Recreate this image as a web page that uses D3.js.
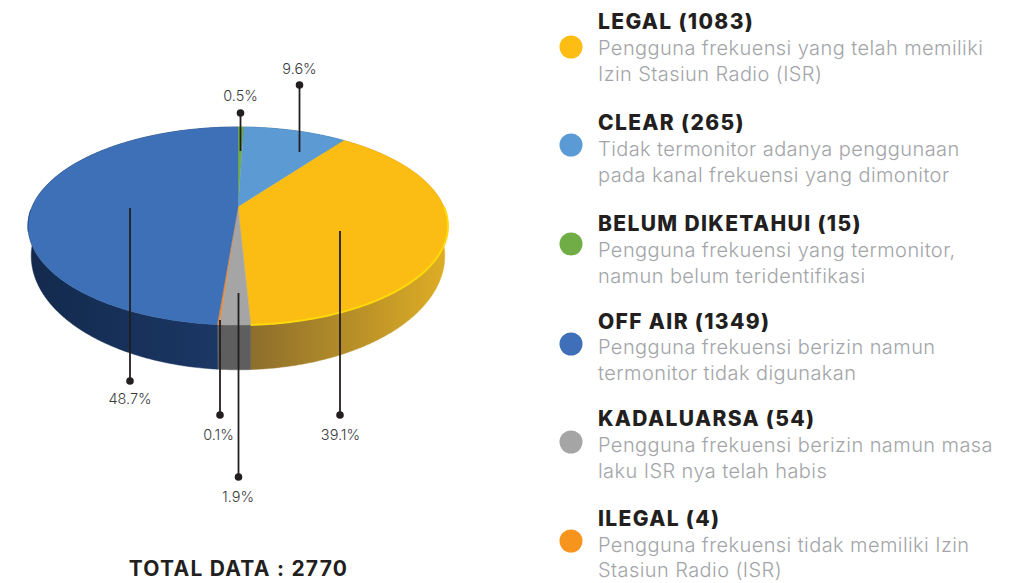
<!DOCTYPE html>
<html>
<head>
<meta charset="utf-8">
<script src="https://cdnjs.cloudflare.com/ajax/libs/d3/7.8.5/d3.min.js"></script>
<style>
  html, body { margin: 0; padding: 0; background: #fff; }
  svg { display: block; }
  text { font-family: Inter, "Open Sans", sans-serif; }
</style>
</head>
<body>
<div id="chart"></div>
<script>
// slice order runs clockwise from 12 o'clock
var names = ['BELUM DIKETAHUI', 'CLEAR', 'LEGAL', 'KADALUARSA', 'ILEGAL', 'OFF AIR'];
var counts = [15, 265, 1083, 54, 4, 1349];
var percents = ['0.5%', '9.6%', '39.1%', '1.9%', '0.1%', '48.7%'];
var total = 2770;

var legendOrder = ['LEGAL', 'CLEAR', 'BELUM DIKETAHUI', 'OFF AIR', 'KADALUARSA', 'ILEGAL'];
var legendNotes = [
  ['Pengguna frekuensi yang telah memiliki', 'Izin Stasiun Radio (ISR)'],
  ['Tidak termonitor adanya penggunaan', 'pada kanal frekuensi yang dimonitor'],
  ['Pengguna frekuensi yang termonitor,', 'namun belum teridentifikasi'],
  ['Pengguna frekuensi berizin namun', 'termonitor tidak digunakan'],
  ['Pengguna frekuensi berizin namun masa', 'laku ISR nya telah habis'],
  ['Pengguna frekuensi tidak memiliki Izin', 'Stasiun Radio (ISR)']
];

var colors = {
  'BELUM DIKETAHUI': '#70ad47', 'CLEAR': '#5b9ad3', 'LEGAL': '#fbbc13',
  'KADALUARSA': '#a5a5a5', 'ILEGAL': '#ed8a35', 'OFF AIR': '#3d70b7'
};
var legendColors = {
  'BELUM DIKETAHUI': '#70ad47', 'CLEAR': '#5b9bd5', 'LEGAL': '#fdbd13',
  'KADALUARSA': '#a5a5a5', 'ILEGAL': '#f7941d', 'OFF AIR': '#3f6fb8'
};

var w = 1020, h = 583;

var svg = d3.select('#chart').append('svg')
  .attr('width', w)
  .attr('height', h);

// side wall shading
var defs = svg.append('defs');
function wallGradient(id, x1, x2, from, to) {
  var g = defs.append('linearGradient')
    .attr('id', id)
    .attr('gradientUnits', 'userSpaceOnUse')
    .attr('x1', x1).attr('x2', x2).attr('y1', 0).attr('y2', 0);
  g.append('stop').attr('offset', 0).attr('stop-color', from);
  g.append('stop').attr('offset', 1).attr('stop-color', to);
  return 'url(#' + id + ')';
}
var wallFill = {
  'BELUM DIKETAHUI': '#3d5f28',
  'CLEAR': '#2f5b85',
  'LEGAL': wallGradient('wall-legal', 250, 440, '#8c6e2c', '#dcab25'),
  'KADALUARSA': '#5e5e5e',
  'ILEGAL': '#5e5e5e',
  'OFF AIR': wallGradient('wall-blue', 30, 220, '#132a4d', '#1b3765')
};

// pie seen in perspective: the near edge is scaled up, so the apex sits above the ellipse centre
var cx = 238, cy = 207, rx = 206, ry = 95.4, k = 0.192;
// lower rim of the wall is a bit narrower and rounder than the top face
var depth = 27, scaleX = 0.985, scaleY = 1.15;

function project(angle, radius, drop, sx, sy) {
  var a = Math.sin(angle) * radius;
  var b = -Math.cos(angle) * radius;
  var q = 1 - k * b;
  return [cx + rx * sx * a / q, cy + drop + ry * sy * b / q];
}

// walk along the rim with small steps between two angles
function rim(a0, a1, drop, sx, sy) {
  var n = Math.max(2, Math.ceil(Math.abs(a1 - a0) / 0.01));
  return d3.range(n + 1).map(function(i) {
    return project(a0 + (a1 - a0) * i / n, 1, drop, sx, sy);
  });
}

var line = d3.line();
var slices = d3.pie().sort(null).value(function(d, i) { return counts[i]; })(names);

// draw side wall
var gWall = svg.append('g').attr('id', 'wall');
gWall.selectAll('path').data(slices).enter().append('path')
  .attr('d', function(d) {
    var top = rim(d.startAngle, d.endAngle, 0, 1, 1);
    var bottom = rim(d.endAngle, d.startAngle, depth, scaleX, scaleY);
    return line(top.concat(bottom)) + 'Z';
  })
  .attr('fill', function(d) { return wallFill[d.data]; })
  .attr('stroke', function(d) { return wallFill[d.data]; })
  .attr('stroke-width', 0.5);

// draw top face
var gTop = svg.append('g').attr('id', 'top');
gTop.selectAll('path').data(slices).enter().append('path')
  .attr('d', function(d) {
    return line([project(0, 0, 0, 1, 1)].concat(rim(d.startAngle, d.endAngle, 0, 1, 1))) + 'Z';
  })
  .attr('fill', function(d) { return colors[d.data]; })
  .attr('stroke', function(d) { return colors[d.data]; })
  .attr('stroke-width', 0.4);

// bright lip on the lit side of the rim, darker one on the far left
var legal = slices[names.indexOf('LEGAL')];
svg.append('path')
  .attr('d', line(rim(Math.PI * 0.5, legal.endAngle, 0, 1, 1)))
  .attr('fill', 'none')
  .attr('stroke', '#ffd90a')
  .attr('stroke-width', 2);
svg.append('path')
  .attr('d', line(rim(Math.PI * 1.42, Math.PI * 1.49, 0, 1, 1)))
  .attr('fill', 'none')
  .attr('stroke', '#2a5a9c')
  .attr('stroke-width', 1.2);

// leader lines: [x, inner end y, dot y, label y]
var leaders = [
  [240.5, 151, 113, 101],
  [299.5, 152, 85, 74],
  [340, 231, 415, 440],
  [238.5, 293, 477, 502],
  [220, 320, 415, 440],
  [130, 208, 381, 404]
];
var labelX = [240.5, 299.5, 340.5, 238, 218.5, 130];

var gLead = svg.append('g').attr('id', 'leaders');
leaders.forEach(function(l, i) {
  gLead.append('line')
    .attr('x1', l[0]).attr('x2', l[0])
    .attr('y1', l[1]).attr('y2', l[2])
    .attr('stroke', '#231f20')
    .attr('stroke-width', 1.8);
  gLead.append('circle')
    .attr('cx', l[0]).attr('cy', l[2]).attr('r', 3.8)
    .attr('fill', '#231f20');
  gLead.append('text')
    .attr('x', labelX[i]).attr('y', l[3])
    .attr('text-anchor', 'middle')
    .attr('font-size', 14.5)
    .attr('font-weight', 300)
    .attr('fill', '#3a3a3c')
    .text(percents[i]);
});

svg.append('text')
  .attr('x', 238.5).attr('y', 576)
  .attr('text-anchor', 'middle')
  .attr('font-size', 21)
  .attr('font-weight', 700)
  .attr('letter-spacing', 1.25)
  .attr('fill', '#231f20')
  .text('TOTAL DATA : ' + total);

// legend
var titleY = [29, 130, 231, 329, 426, 526];
var noteY = [[55, 81], [156, 182], [257, 283], [354, 380], [452, 478], [552, 577]];
var dotY = [47, 145, 244, 344, 442, 541];

var gLegend = svg.append('g').attr('id', 'legend');
legendOrder.forEach(function(name, i) {
  gLegend.append('circle')
    .attr('cx', 571).attr('cy', dotY[i]).attr('r', 11.5)
    .attr('fill', legendColors[name]);
  gLegend.append('text')
    .attr('x', 598).attr('y', titleY[i])
    .attr('font-size', 21)
    .attr('font-weight', 800)
    .attr('letter-spacing', 1.35)
    .attr('fill', '#231f20')
    .text(name + ' (' + counts[names.indexOf(name)] + ')');
  legendNotes[i].forEach(function(note, j) {
    gLegend.append('text')
      .attr('x', 598).attr('y', noteY[i][j])
      .attr('font-size', 20)
      .attr('font-weight', 300)
      .attr('letter-spacing', 0.42)
      .attr('fill', '#a3a5a8')
      .text(note);
  });
});
</script>
</body>
</html>
